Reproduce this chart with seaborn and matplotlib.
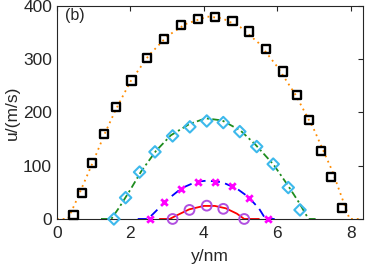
import matplotlib
matplotlib.use("Agg")
import matplotlib.pyplot as plt
import pandas as pd
import seaborn as sns

# simulation points (markers)
sq_y = [0.45, 0.69, 0.95, 1.28, 1.62, 2.03, 2.46, 2.91, 3.38, 3.84, 4.31,
        4.78, 5.22, 5.69, 6.15, 6.53, 6.86, 7.20, 7.47, 7.77]
sq_u = [7.5, 49, 105, 159, 210, 260, 302, 338, 364, 376, 380,
        372, 352, 319, 277, 232, 186, 128, 79.5, 20]

dm_y = [1.55, 1.87, 2.25, 2.67, 3.15, 3.62, 4.08, 4.53, 4.98, 5.44, 5.89, 6.30, 6.62]
dm_u = [0, 40, 88, 126, 156, 173, 184, 181, 164, 136, 103, 59, 17]

cr_y = [2.53, 2.91, 3.38, 3.84, 4.31, 4.78, 5.22, 5.76]
cr_u = [0, 31, 56, 69, 69, 61, 40, 0]

ci_y = [3.15, 3.61, 4.08, 4.53, 5.10]
ci_u = [0, 17, 25, 19, 0]

# fitted profiles (lines)
orange_y = [0.0, 0.3, 0.5, 0.7, 1.0, 1.3, 1.6, 2.0, 2.5, 3.0, 3.5, 4.1, 4.5,
            5.0, 5.5, 6.0, 6.5, 7.0, 7.5, 7.97, 8.3]
orange_u = [0, 0, 30, 62, 110, 160, 205, 258, 307, 343, 366, 380, 377,
            360, 330, 286, 233, 168, 90, 0, 0]

green_y = [1.2, 1.48, 1.7, 2.0, 2.3, 2.7, 3.1, 3.6, 4.05, 4.5, 5.0, 5.4,
           5.9, 6.3, 6.6, 6.85, 7.12]
green_u = [0, 0, 22, 55, 90, 128, 157, 178, 189, 185, 166, 140,
           102, 62, 30, 0, 0]

blue_y = [2.2, 2.48, 2.7, 3.0, 3.4, 3.8, 4.1, 4.5, 4.9, 5.2, 5.5, 5.68, 5.93]
blue_u = [0, 0, 15, 36, 58, 70, 72, 69, 57, 42, 20, 0, 0]

red_y = [2.8, 3.07, 3.3, 3.6, 4.0, 4.3, 4.6, 4.9, 5.1, 5.5]
red_u = [0, 0, 8, 18, 24.5, 24.5, 20, 10, 0, 0]

sns.set_style("white")
plt.rcParams["font.family"] = ["Liberation Sans", "DejaVu Sans"]

fig = plt.figure(figsize=(3.65, 2.71), dpi=100)
ax = fig.add_axes([0.156, 0.192, 0.838, 0.786])

lines = [
    (orange_y, orange_u, "#FF8C00", (0, (1, 2.2)), 1.3),
    (green_y, green_u, "#1E8C1E", (0, (4, 1.8, 1.2, 1.8)), 1.3),
    (blue_y, blue_u, "#0000FF", (0, (5, 3)), 1.3),
    (red_y, red_u, "#FF0000", "-", 1.3),
]
for xs, ys, col, ls, lw in lines:
    d = pd.DataFrame({"y": xs, "u": ys})
    sns.lineplot(data=d, x="y", y="u", ax=ax, color=col, linestyle=ls,
                 linewidth=lw, sort=False, clip_on=False)

pts = [
    (sq_y, sq_u, "s", 34, "black", 1.7),
    (dm_y, dm_u, "D", 34, "#3DB9EC", 1.5),
    (ci_y, ci_u, "o", 50, "#B04FE0", 1.4),
]
for xs, ys, mk, s, col, lw in pts:
    d = pd.DataFrame({"y": xs, "u": ys})
    sns.scatterplot(data=d, x="y", y="u", ax=ax, marker=mk, s=s,
                    facecolor="none", edgecolor=col, linewidth=lw,
                    clip_on=False, zorder=4)

d = pd.DataFrame({"y": cr_y, "u": cr_u})
sns.scatterplot(data=d, x="y", y="u", ax=ax, marker="x", s=22,
                color="#FF00FF", linewidth=2, clip_on=False, zorder=4)

ax.set_xlim(0, 8.33)
ax.set_ylim(0, 400)
ax.set_xticks([0, 2, 4, 6, 8])
ax.set_yticks([0, 100, 200, 300, 400])
ax.tick_params(direction="in", length=3.5, width=0.8, labelsize=12.5,
               top=True, right=True, colors="#262626")
ax.tick_params(axis="x", pad=5)
ax.tick_params(axis="y", pad=3.5)
for sp in ax.spines.values():
    sp.set_color("#262626")
    sp.set_linewidth(0.8)
ax.set_xlabel("y/nm", fontsize=12.5, color="#262626", labelpad=6)
ax.set_ylabel("u/(m/s)", fontsize=12.5, color="#262626", labelpad=2)
ax.text(0.027, 0.955, "(b)", transform=ax.transAxes, ha="left", va="center",
        fontsize=11.5, color="#262626")

fig.savefig("out.png", dpi=100)
